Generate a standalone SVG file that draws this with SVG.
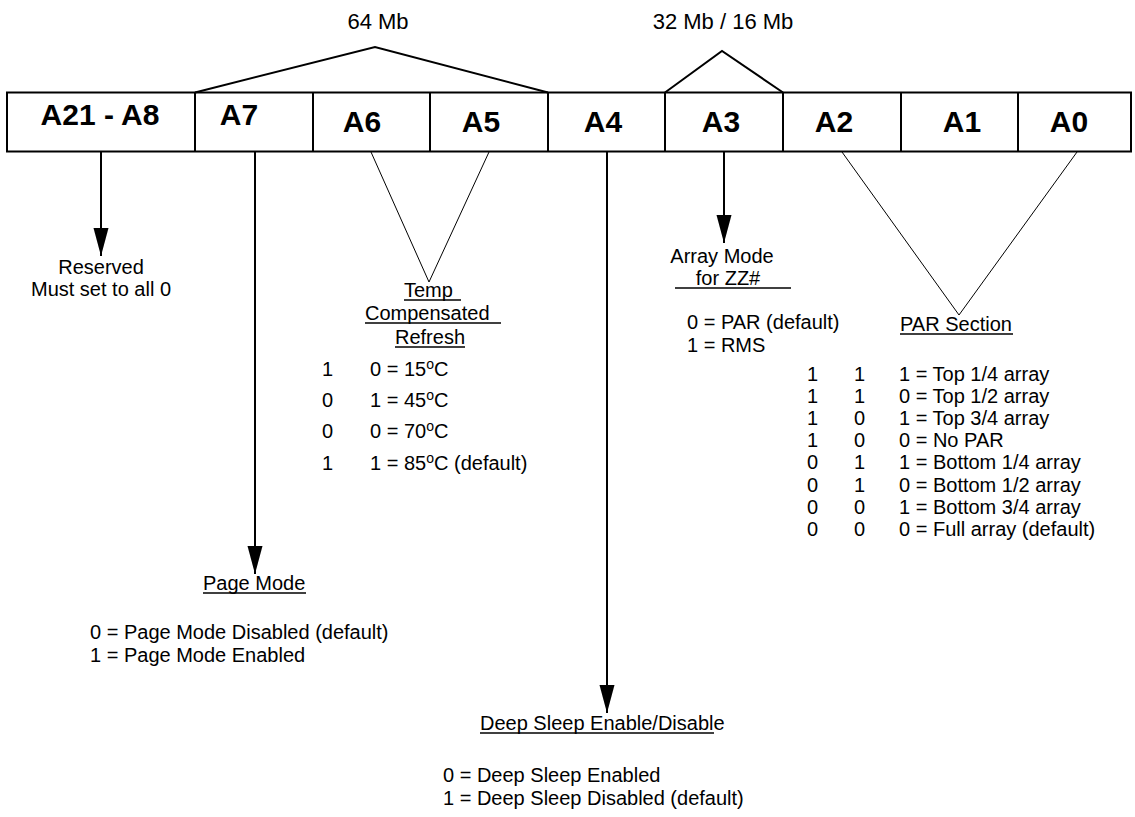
<svg xmlns="http://www.w3.org/2000/svg" width="1135" height="817" viewBox="0 0 1135 817">
<defs>
<style>
.t{font-family:"Liberation Sans",Arial,sans-serif;font-size:20px;fill:#000}
.h{font-size:22px}
.b{font-family:"Liberation Sans",Arial,sans-serif;font-size:30px;font-weight:bold;fill:#000;text-anchor:middle}
.m{text-anchor:middle}
.thick{stroke:#000;stroke-width:2;fill:none}
.thin{stroke:#000;stroke-width:1;fill:none}
.ul{stroke:#000;stroke-width:1.5}
.arr{stroke:#000;stroke-width:2;fill:none;marker-end:url(#ah)}
.sup{font-size:14px}
</style>
<marker id="ah" markerUnits="userSpaceOnUse" markerWidth="30" markerHeight="16" refX="28" refY="7.5" orient="auto">
<path d="M0,0 L28,7.5 L0,15 z" fill="#000"/>
</marker>
</defs>
<rect width="1135" height="817" fill="#fff"/>

<g id="register">
<rect x="7" y="92.5" width="1124" height="59" class="thick"/>
<line x1="195" y1="92.5" x2="195" y2="151.5" class="thick"/>
<line x1="313" y1="92.5" x2="313" y2="151.5" class="thick"/>
<line x1="430" y1="92.5" x2="430" y2="151.5" class="thick"/>
<line x1="548" y1="92.5" x2="548" y2="151.5" class="thick"/>
<line x1="665" y1="92.5" x2="665" y2="151.5" class="thick"/>
<line x1="783" y1="92.5" x2="783" y2="151.5" class="thick"/>
<line x1="901" y1="92.5" x2="901" y2="151.5" class="thick"/>
<line x1="1018" y1="92.5" x2="1018" y2="151.5" class="thick"/>
<text class="b" x="100" y="125">A21 - A8</text>
<text class="b" x="239" y="125">A7</text>
<text class="b" x="362" y="132">A6</text>
<text class="b" x="481" y="132">A5</text>
<text class="b" x="603" y="132">A4</text>
<text class="b" x="721" y="132">A3</text>
<text class="b" x="834" y="132">A2</text>
<text class="b" x="962" y="132">A1</text>
<text class="b" x="1069" y="132">A0</text>
</g>

<g id="size64">
<polyline points="195,92.5 375,47 548,92.5" class="thick"/>
<text class="t h m" x="378" y="29">64 Mb</text>
</g>
<g id="size32">
<polyline points="665,92.5 722,51 783,92.5" class="thick"/>
<text class="t h m" x="723" y="29">32 Mb / 16 Mb</text>
</g>

<g id="connectors">
<line x1="101" y1="152" x2="101" y2="256" class="arr"/>
<line x1="255" y1="152" x2="255" y2="574" class="arr"/>
<line x1="607" y1="152" x2="607" y2="713" class="arr"/>
<line x1="724" y1="152" x2="724" y2="243" class="arr"/>
<polyline points="371,152 429,282 489,152" class="thin"/>
<polyline points="842,152 959,315 1077,152" class="thin"/>
</g>

<g id="reserved">
<text class="t m" x="101" y="274">Reserved</text>
<text class="t m" x="101" y="296">Must set to all 0</text>
</g>

<g id="temp">
<text class="t" x="404" y="297">Temp</text>
<line x1="404" y1="300" x2="461" y2="300" class="ul"/>
<text class="t" x="365" y="320">Compensated</text>
<line x1="365" y1="323" x2="501" y2="323" class="ul"/>
<text class="t m" x="430" y="344">Refresh</text>
<line x1="395" y1="347" x2="465" y2="347" class="ul"/>
<text class="t" x="322" y="376">1</text><text class="t" x="370" y="376">0 = 15<tspan class="sup" dy="-7">o</tspan><tspan dy="7">C</tspan></text>
<text class="t" x="322" y="407">0</text><text class="t" x="370" y="407">1 = 45<tspan class="sup" dy="-7">o</tspan><tspan dy="7">C</tspan></text>
<text class="t" x="322" y="438">0</text><text class="t" x="370" y="438">0 = 70<tspan class="sup" dy="-7">o</tspan><tspan dy="7">C</tspan></text>
<text class="t" x="322" y="470">1</text><text class="t" x="370" y="470">1 = 85<tspan class="sup" dy="-7">o</tspan><tspan dy="7">C (default)</tspan></text>
</g>

<g id="arraymode">
<text class="t m" x="722" y="263">Array Mode</text>
<text class="t m" x="728" y="285">for ZZ#</text>
<line x1="675" y1="288" x2="791" y2="288" class="ul"/>
<text class="t" x="687" y="329">0 = PAR (default)</text>
<text class="t" x="687" y="352">1 = RMS</text>
</g>

<g id="par">
<text class="t" x="900" y="331">PAR Section</text>
<line x1="900" y1="334" x2="1013" y2="334" class="ul"/>
<text class="t" x="807" y="381">1</text><text class="t" x="854" y="381">1</text><text class="t" x="899" y="381">1 = Top 1/4 array</text>
<text class="t" x="807" y="403">1</text><text class="t" x="854" y="403">1</text><text class="t" x="899" y="403">0 = Top 1/2 array</text>
<text class="t" x="807" y="425">1</text><text class="t" x="854" y="425">0</text><text class="t" x="899" y="425">1 = Top 3/4 array</text>
<text class="t" x="807" y="447">1</text><text class="t" x="854" y="447">0</text><text class="t" x="899" y="447">0 = No PAR</text>
<text class="t" x="807" y="469">0</text><text class="t" x="854" y="469">1</text><text class="t" x="899" y="469">1 = Bottom 1/4 array</text>
<text class="t" x="807" y="492">0</text><text class="t" x="854" y="492">1</text><text class="t" x="899" y="492">0 = Bottom 1/2 array</text>
<text class="t" x="807" y="514">0</text><text class="t" x="854" y="514">0</text><text class="t" x="899" y="514">1 = Bottom 3/4 array</text>
<text class="t" x="807" y="536">0</text><text class="t" x="854" y="536">0</text><text class="t" x="899" y="536">0 = Full array (default)</text>
</g>

<g id="pagemode">
<text class="t" x="203" y="590">Page Mode</text>
<line x1="203" y1="593" x2="306" y2="593" class="ul"/>
<text class="t" x="90" y="639">0 = Page Mode Disabled (default)</text>
<text class="t" x="90" y="662">1 = Page Mode Enabled</text>
</g>

<g id="deepsleep">
<text class="t" x="480" y="730">Deep Sleep Enable/Disable</text>
<line x1="480" y1="733" x2="714" y2="733" class="ul"/>
<text class="t" x="443" y="782">0 = Deep Sleep Enabled</text>
<text class="t" x="443" y="805">1 = Deep Sleep Disabled (default)</text>
</g>
</svg>
